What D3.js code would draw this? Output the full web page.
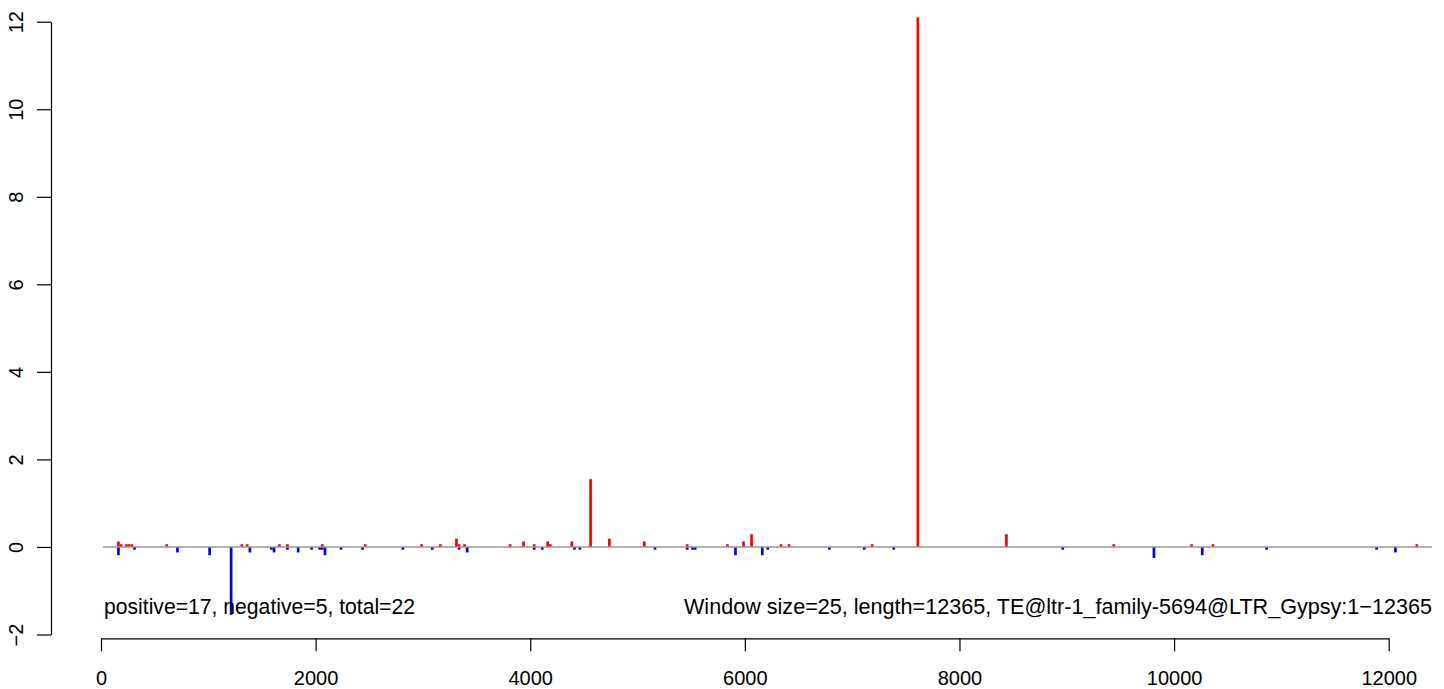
<!DOCTYPE html>
<html><head><meta charset="utf-8">
<script src="https://cdn.jsdelivr.net/npm/d3@7"></script>
<style>
html,body{margin:0;padding:0;background:#fff;}
svg{display:block;}
text{font-family:"Liberation Sans",Arial,Helvetica,sans-serif;fill:#000;}
</style>
</head><body>
<svg id="chart" width="1444" height="689"></svg>
<script>
// ---- data ----
const windowSize = 25;
const posStarts = [150,175,225,250,275,600,1300,1350,1650,1725,2050,2450,2975,3150,3300,3325,3375,3800,3925,4025,4150,4175,4375,4550,4725,5050,5450,5825,5975,6050,6325,6400,7175,7600,8425,9425,10150,10350,12250];
const posValues = [0.125,0.0625,0.0625,0.0625,0.0625,0.0625,0.0625,0.0625,0.0625,0.0625,0.0625,0.0625,0.0625,0.0625,0.1875,0.0625,0.0625,0.0625,0.125,0.0625,0.125,0.0625,0.125,1.55,0.1875,0.125,0.0625,0.0625,0.125,0.29,0.0625,0.0625,0.0625,12.1,0.29,0.0625,0.0625,0.0625,0.0625];
const negStarts = [150,300,700,1000,1200,1375,1575,1600,1725,1825,1950,2025,2050,2075,2225,2425,2800,3075,3325,3400,4025,4100,4400,4450,5150,5450,5500,5525,5900,6150,6200,6775,7100,7375,8950,9800,10250,10850,11875,12050];
const negValues = [-0.1875,-0.0625,-0.125,-0.1875,-1.55,-0.125,-0.0625,-0.125,-0.0625,-0.125,-0.0625,-0.0625,-0.0625,-0.1875,-0.0625,-0.0625,-0.0625,-0.0625,-0.0625,-0.125,-0.0625,-0.0625,-0.0625,-0.0625,-0.0625,-0.0625,-0.0625,-0.0625,-0.1875,-0.1875,-0.0625,-0.0625,-0.0625,-0.0625,-0.0625,-0.25,-0.1875,-0.0625,-0.0625,-0.125];
const xTicks = [0,2000,4000,6000,8000,10000,12000];
const yTicks = [-2,0,2,4,6,8,10,12];
const zeroLineExtent = [19, 12403];
const leftNote = "positive=17, negative=5, total=22";
const rightNote = "Window size=25, length=12365, TE@ltr-1_family-5694@LTR_Gypsy:1\u221212365";

// ---- chart ----
const svg = d3.select("#chart");
svg.append("rect").attr("width",1444).attr("height",689).attr("fill","#fff");

const x = d3.scaleLinear().domain([0,12000]).range([101,1388.7]);
const y = d3.scaleLinear().domain([-2,12]).range([634.5,21.7]);

const pos = posStarts.map((s,i)=>({s, v:posValues[i]}));
const neg = negStarts.map((s,i)=>({s, v:negValues[i]}));

svg.append("g").selectAll("rect").data(pos).join("rect")
  .attr("x", d=>x(d.s)).attr("width", d=>x(d.s+windowSize)-x(d.s))
  .attr("y", d=>y(d.v)).attr("height", d=>y(0)-y(d.v))
  .attr("fill","#ff0000");

svg.append("g").selectAll("rect").data(neg).join("rect")
  .attr("x", d=>x(d.s)).attr("width", d=>x(d.s+windowSize)-x(d.s))
  .attr("y", y(0)).attr("height", d=>y(d.v)-y(0))
  .attr("fill","#0000ff");

// zero line
svg.append("line")
  .attr("x1", x(zeroLineExtent[0])).attr("x2", x(zeroLineExtent[1]))
  .attr("y1", y(0)).attr("y2", y(0))
  .attr("stroke","#9a9a9a").attr("stroke-width",1.6);

// x axis
const xAxis = svg.append("g").attr("transform","translate(0,638.3)")
  .call(d3.axisBottom(x).tickValues(xTicks).tickFormat(d3.format("d"))
        .tickSize(13).tickSizeOuter(0).tickPadding(19.5));
xAxis.selectAll("path,line").attr("stroke","#000").attr("stroke-width",1.2);
xAxis.selectAll("text").attr("font-size",20).attr("fill","#000");

// y axis
const yAxis = svg.append("g").attr("transform","translate(51,0)")
  .call(d3.axisLeft(y).tickValues(yTicks).tickFormat(d3.format("d"))
        .tickSize(14).tickSizeOuter(0));
yAxis.selectAll("path,line").attr("stroke","#000").attr("stroke-width",1.2);
yAxis.selectAll("text")
  .attr("x",null).attr("dy",null)
  .attr("text-anchor","middle")
  .attr("transform","translate(-28.3,0) rotate(-90)")
  .attr("font-size",20).attr("fill","#000");
xAxis.attr("font-family",null); yAxis.attr("font-family",null);

// notes
svg.append("text").attr("x",104).attr("y",614).attr("font-size",21.2)
  .attr("textLength",311).attr("lengthAdjust","spacingAndGlyphs").text(leftNote);
svg.append("text").attr("x",684).attr("y",614).attr("font-size",21.2)
  .attr("textLength",748).attr("lengthAdjust","spacingAndGlyphs").text(rightNote);
</script>
</body></html>
